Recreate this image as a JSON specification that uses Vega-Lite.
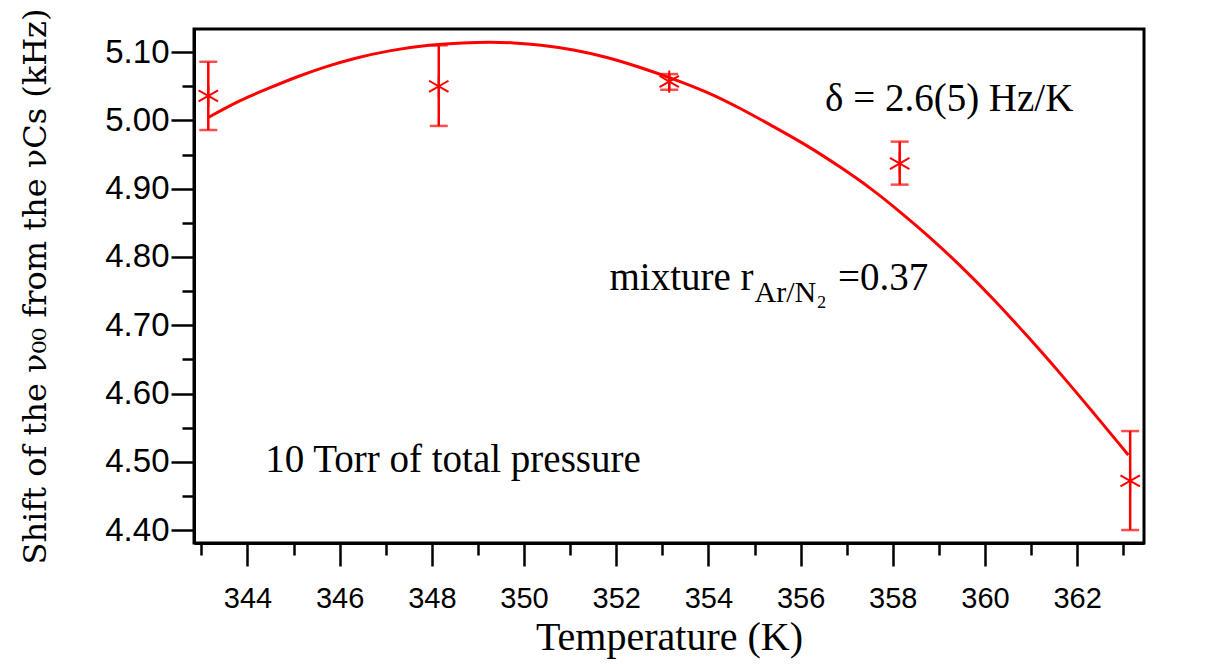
{
  "$schema": "https://vega.github.io/schema/vega-lite/v6.json",
  "width": 950,
  "height": 514,
  "autosize": {"type": "none"},
  "padding": {"left": 194, "top": 29, "right": 76, "bottom": 121},
  "background": "white",
  "config": {
    "view": {"stroke": "black", "strokeWidth": 3},
    "axis": {
      "domainColor": "black", "domainWidth": 3,
      "tickColor": "black", "tickWidth": 2.5, "tickSize": 23,
      "labelFont": "Liberation Sans", "labelColor": "black",
      "titleFont": "Liberation Serif", "titleFontWeight": "normal", "titleColor": "black",
      "grid": false
    }
  },
  "datasets": {
    "fit": [
      {"T": 343.14, "S": 5.004}, {"T": 343.84, "S": 5.030}, {"T": 344.49, "S": 5.048},
      {"T": 345.07, "S": 5.064}, {"T": 345.65, "S": 5.078}, {"T": 346.30, "S": 5.091},
      {"T": 347.10, "S": 5.103}, {"T": 347.96, "S": 5.111}, {"T": 348.69, "S": 5.114},
      {"T": 349.26, "S": 5.115}, {"T": 349.77, "S": 5.114}, {"T": 350.35, "S": 5.111},
      {"T": 351.07, "S": 5.104}, {"T": 351.80, "S": 5.093}, {"T": 352.52, "S": 5.078},
      {"T": 353.24, "S": 5.061}, {"T": 353.97, "S": 5.042}, {"T": 354.69, "S": 5.018},
      {"T": 355.41, "S": 4.991}, {"T": 356.13, "S": 4.964}, {"T": 356.86, "S": 4.932},
      {"T": 357.58, "S": 4.898}, {"T": 358.16, "S": 4.866}, {"T": 358.74, "S": 4.833},
      {"T": 359.46, "S": 4.788}, {"T": 360.18, "S": 4.739}, {"T": 360.91, "S": 4.685},
      {"T": 361.63, "S": 4.630}, {"T": 362.35, "S": 4.572}, {"T": 363.11, "S": 4.510}
    ],
    "pts": [
      {"T": 343.15, "S": 5.036, "lo": 4.986, "hi": 5.086},
      {"T": 348.15, "S": 5.050, "lo": 4.992, "hi": 5.110},
      {"T": 353.15, "S": 5.057, "lo": 5.045, "hi": 5.068},
      {"T": 358.15, "S": 4.937, "lo": 4.906, "hi": 4.969},
      {"T": 363.15, "S": 4.472, "lo": 4.400, "hi": 4.545}
    ]
  },
  "layer": [
    {
      "layer": [
        {
          "data": {"name": "fit"},
          "mark": {"type": "line", "color": "#ff0000", "strokeWidth": 3, "interpolate": "basis"},
          "encoding": {
            "x": {
              "field": "T", "type": "quantitative",
              "scale": {"domain": [342.84, 363.45], "nice": false, "zero": false},
              "axis": {
                "orient": "bottom",
                "title": "Temperature (K)",
                "titleFont": "Liberation Serif", "titleFontSize": 40,
                "labelFontSize": 29,
                "values": [344, 346, 348, 350, 352, 354, 356, 358, 360, 362],
                "format": "d",
                "labelPadding": 18,
                "titlePadding": 4
              }
            },
            "y": {
              "field": "S", "type": "quantitative",
              "scale": {"domain": [4.381, 5.134], "nice": false, "zero": false},
              "axis": {
                "orient": "left",
                "title": "Shift of the ν₀₀ from the νCs (kHz)",
                "titleFont": "DejaVu Serif", "titleFontSize": 32,
                "labelFontSize": 33,
                "values": [4.4, 4.5, 4.6, 4.7, 4.8, 4.9, 5.0, 5.1],
                "format": ".2f",
                "labelPadding": 2,
                "titlePadding": 52
              }
            }
          }
        },
        {
          "data": {"name": "pts"},
          "mark": {"type": "rule", "color": "#ff0000", "strokeWidth": 2.5},
          "encoding": {
            "x": {"field": "T", "type": "quantitative"},
            "y": {"field": "lo", "type": "quantitative"},
            "y2": {"field": "hi"}
          }
        },
        {
          "data": {"name": "pts"},
          "mark": {"type": "tick", "orient": "horizontal", "color": "#ff0000", "size": 18, "thickness": 2.5},
          "encoding": {
            "x": {"field": "T", "type": "quantitative"},
            "y": {"field": "lo", "type": "quantitative"}
          }
        },
        {
          "data": {"name": "pts"},
          "mark": {"type": "tick", "orient": "horizontal", "color": "#ff0000", "size": 18, "thickness": 2.5},
          "encoding": {
            "x": {"field": "T", "type": "quantitative"},
            "y": {"field": "hi", "type": "quantitative"}
          }
        },
        {
          "data": {"name": "pts"},
          "mark": {"type": "point", "shape": "M0,-1L0,1M-0.87,-0.5L0.87,0.5M-0.87,0.5L0.87,-0.5", "filled": false, "color": "#ff0000", "size": 500, "strokeWidth": 2, "opacity": 1},
          "encoding": {
            "x": {"field": "T", "type": "quantitative"},
            "y": {"field": "S", "type": "quantitative"}
          }
        },
        {
          "data": {"values": [
            {"T": 344.384, "S": 4.4855, "label": "10 Torr of total pressure"},
            {"T": 356.53, "S": 5.0136, "label": "δ = 2.6(5) Hz/K"},
            {"T": 356.81, "S": 4.7515, "label": "=0.37"}
          ]},
          "mark": {"type": "text", "align": "left", "baseline": "alphabetic", "font": "Liberation Serif", "fontSize": 39, "color": "black"},
          "encoding": {
            "x": {"field": "T", "type": "quantitative"},
            "y": {"field": "S", "type": "quantitative"},
            "text": {"field": "label"}
          }
        },
        {
          "data": {"values": [
            {"T": 354.98, "S": 4.7515, "label": "mixture r"}
          ]},
          "mark": {"type": "text", "align": "right", "baseline": "alphabetic", "font": "Liberation Serif", "fontSize": 39, "color": "black"},
          "encoding": {
            "x": {"field": "T", "type": "quantitative"},
            "y": {"field": "S", "type": "quantitative"},
            "text": {"field": "label"}
          }
        },
        {
          "data": {"values": [
            {"T": 355.0, "S": 4.734, "label": "Ar/N₂"}
          ]},
          "mark": {"type": "text", "align": "left", "baseline": "alphabetic", "font": "Liberation Serif", "fontSize": 30, "color": "black"},
          "encoding": {
            "x": {"field": "T", "type": "quantitative"},
            "y": {"field": "S", "type": "quantitative"},
            "text": {"field": "label"}
          }
        }
      ]
    },
    {
      "data": {"name": "pts"},
      "mark": {"type": "point", "opacity": 0},
      "encoding": {
        "x": {
          "field": "T", "type": "quantitative",
          "axis": {"orient": "bottom", "values": [343, 345, 347, 349, 351, 353, 355, 357, 359, 361, 363], "tickSize": 12, "labels": false, "domain": false, "title": null}
        },
        "y": {
          "field": "S", "type": "quantitative",
          "axis": {"orient": "left", "values": [4.45, 4.55, 4.65, 4.75, 4.85, 4.95, 5.05], "tickSize": 12, "labels": false, "domain": false, "title": null}
        }
      }
    }
  ],
  "resolve": {"axis": {"x": "independent", "y": "independent"}}
}
